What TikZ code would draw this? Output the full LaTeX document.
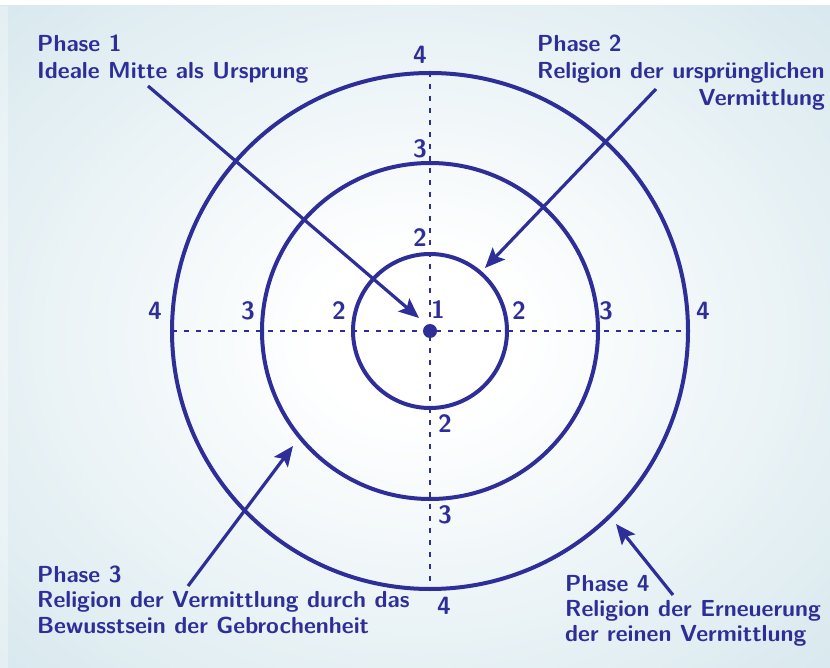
\documentclass[tikz,border=0pt]{standalone}
\usetikzlibrary{arrows.meta}
\definecolor{ink}{RGB}{46,46,152}
\definecolor{bgblue}{RGB}{200,223,231}
\definecolor{bgdark}{RGB}{186,213,223}
\pgfdeclareradialshading{bgshade}{\pgfpoint{0bp}{0bp}}{color(0bp)=(white); color(6bp)=(white); color(48bp)=(bgblue); color(72bp)=(bgdark)}
\begin{document}
\begin{tikzpicture}[x=1pt,y=-1pt,
  ring/.style={draw=ink,line width=4pt},
  axis/.style={draw=ink,line width=2.8pt,dash pattern=on 5pt off 7pt},
  pointer/.style={draw=ink,line width=3.2pt,-{Stealth[length=20pt,width=17pt,inset=4pt]}},
  num/.style={text=ink,font=\sffamily\bfseries\fontsize{25}{25}\selectfont,inner sep=0pt},
  phase/.style={text=ink,font=\sffamily\bfseries\fontsize{23.2}{27}\selectfont,inner sep=0pt}]
\useasboundingbox (0,0) rectangle (830,668);
\fill[white] (0,0) rectangle (830,668);
\shade[shading=bgshade] (0,6) rectangle (830,668);
\fill[white,opacity=0.3] (0,6) rectangle (8,668);
\coordinate (c) at (430,331);
\coordinate (hl) at (172,331);
\coordinate (hr) at (688,331);
\coordinate (vt) at (430,72);
\coordinate (vb) at (430,589);
\draw[axis] (hl) -- (hr);
\draw[axis] (vt) -- (vb);
\draw[ring] (c) circle[radius=77pt];
\draw[ring] (c) circle[radius=168pt];
\draw[ring] (c) circle[radius=258pt];
\fill[ink] (c) circle[radius=7pt];
% numbers
\node[num] (n1) at (438,310) {1};
\node[num] (l2) at (339,311) {2};
\node[num] (r2) at (519,311) {2};
\node[num] (t2) at (420,238) {2};
\node[num] (b2) at (445,424) {2};
\node[num] (l3) at (248,311) {3};
\node[num] (r3) at (606,311) {3};
\node[num] (t3) at (420,149) {3};
\node[num] (b3) at (445,515) {3};
\node[num] (l4) at (155,311) {4};
\node[num] (r4) at (703,311) {4};
\node[num] (t4) at (420,55) {4};
\node[num] (b4) at (444,606) {4};
% texts
\node[phase,anchor=base west] (p1a) at (37,52) {Phase 1};
\node[phase,anchor=base west] (p1b) at (37,79) {Ideale Mitte als Ursprung};
\node[phase,anchor=base west] (p2a) at (537,52) {Phase 2};
\node[phase,anchor=base west] (p2b) at (537,79) {Religion der ursprünglichen};
\node[phase,anchor=base east] (p2c) at (825,106) {Vermittlung};
\node[phase,anchor=base west] (p3a) at (37,582) {Phase 3};
\node[phase,anchor=base west] (p3b) at (37,607) {Religion der Vermittlung durch das};
\node[phase,anchor=base west] (p3c) at (37,633) {Bewusstsein der Gebrochenheit};
\node[phase,anchor=base west] (p4a) at (565,591) {Phase 4};
\node[phase,anchor=base west] (p4b) at (565,616) {Religion der Erneuerung};
\node[phase,anchor=base west] (p4c) at (565,641) {der reinen Vermittlung};
% arrows
\coordinate (a1s) at (148,86);
\coordinate (a1e) at (419,318);
\coordinate (a2s) at (656,89);
\coordinate (a2e) at (485,268);
\coordinate (a3s) at (188,586);
\coordinate (a3e) at (293,446);
\coordinate (a4s) at (673,595);
\coordinate (a4e) at (616,524);
\draw[pointer] (a1s) -- (a1e);
\draw[pointer] (a2s) -- (a2e);
\draw[pointer] (a3s) -- (a3e);
\draw[pointer] (a4s) -- (a4e);
\end{tikzpicture}
\end{document}
